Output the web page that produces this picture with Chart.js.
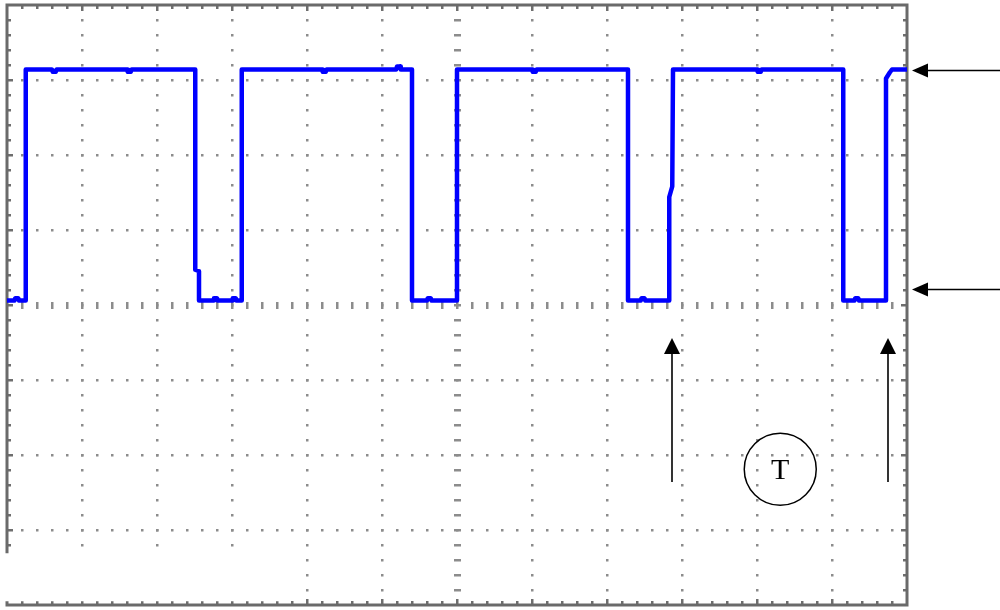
<!DOCTYPE html>
<html>
<head>
<meta charset="utf-8">
<script src="https://cdn.jsdelivr.net/npm/chart.js@4.4.1/dist/chart.umd.min.js"></script>
<style>
html,body{margin:0;padding:0;background:#fff;}
#wrap{width:1000px;height:610px;}
</style>
</head>
<body>
<div id="wrap"><canvas id="c" width="1000" height="610"></canvas></div>
<script>
// Time axis in divisions (0..12), voltage in divisions (-4..4)
const time  = [0, 0.10, 0.11, 0.15, 0.16, 0.25, 0.25, 0.60, 0.61, 0.65, 0.66, 1.6, 1.61, 1.65, 1.66, 2.51, 2.51, 2.56, 2.56, 2.75, 2.76, 2.80, 2.81, 3.0, 3.01, 3.05, 3.06, 3.13, 3.13, 4.2, 4.21, 4.25, 4.26, 5.19, 5.20, 5.24, 5.25, 5.40, 5.40, 5.60, 5.61, 5.65, 5.66, 6.0, 6.0, 7.0, 7.01, 7.05, 7.06, 8.28, 8.28, 8.45, 8.46, 8.50, 8.51, 8.83, 8.83, 8.87, 8.88, 10.0, 10.01, 10.05, 10.06, 11.15, 11.15, 11.30, 11.31, 11.35, 11.36, 11.72, 11.72, 11.77, 11.80, 12.0];
const volts = [0.06, 0.06, 0.09, 0.09, 0.06, 0.06, 3.14, 3.14, 3.11, 3.11, 3.14, 3.14, 3.11, 3.11, 3.14, 3.14, 0.47, 0.45, 0.06, 0.06, 0.09, 0.09, 0.06, 0.06, 0.09, 0.09, 0.06, 0.06, 3.14, 3.14, 3.11, 3.11, 3.14, 3.14, 3.18, 3.18, 3.14, 3.14, 0.06, 0.06, 0.09, 0.09, 0.06, 0.06, 3.14, 3.14, 3.11, 3.11, 3.14, 3.14, 0.06, 0.06, 0.09, 0.09, 0.06, 0.06, 1.44, 1.58, 3.14, 3.14, 3.11, 3.11, 3.14, 3.14, 0.06, 0.06, 0.09, 0.09, 0.06, 0.06, 3.02, 3.10, 3.14, 3.14];
const xDivisions = 12;
const yDivisions = 8;
const markerLabel = 'T';

const scopePlugin = {
  id: 'scope',
  beforeDatasetsDraw(chart) {
    const ctx = chart.ctx;
    const xs = chart.scales.x, ys = chart.scales.y;
    const L = xs.getPixelForValue(0), R = xs.getPixelForValue(xDivisions);
    const T = ys.getPixelForValue(yDivisions/2), B = ys.getPixelForValue(-yDivisions/2);
    ctx.save();
    ctx.fillStyle = '#8c8c8c';
    // dotted vertical grid
    for (let i = 1; i < xDivisions; i++) {
      const px = Math.round(xs.getPixelForValue(i));
      for (let k = 1; k < yDivisions*5; k++) {
        const py = Math.round(ys.getPixelForValue(-yDivisions/2 + k*0.2));
        if (i === xDivisions/2) ctx.fillRect(px-3, py-1, 7, 2.5);
        else ctx.fillRect(px-1, py-1, 2.5, 2.5);
      }
    }
    // dotted horizontal grid
    for (let j = -yDivisions/2 + 1; j < yDivisions/2; j++) {
      const py = Math.round(ys.getPixelForValue(j));
      for (let k = 1; k < xDivisions*5; k++) {
        const px = Math.round(xs.getPixelForValue(k*0.2));
        if (j === 0) ctx.fillRect(px-1, py-3, 2.5, 7);
        else ctx.fillRect(px-1, py-1, 2.5, 2.5);
      }
    }
    // border ticks
    ctx.fillStyle = '#6e6e6e';
    for (let k = 1; k < xDivisions*5; k++) {
      const px = Math.round(xs.getPixelForValue(k*0.2));
      const len = (k % 5 === 0) ? 6 : 4;
      ctx.fillRect(px-1, T, 2.5, len);
      ctx.fillRect(px-1, B-len, 2.5, len);
    }
    for (let k = 1; k < yDivisions*5; k++) {
      const py = Math.round(ys.getPixelForValue(-yDivisions/2 + k*0.2));
      const len = (k % 5 === 0) ? 6 : 4;
      ctx.fillRect(L, py-1, len, 2.5);
      ctx.fillRect(R-len, py-1, len, 2.5);
    }
    // frame
    ctx.strokeStyle = '#6a6a6a';
    ctx.lineWidth = 3;
    ctx.strokeRect(L, T, R-L, B-T);
    // blank patch at bottom-left of the screen
    ctx.fillStyle = '#ffffff';
    ctx.fillRect(0, ys.getPixelForValue(-3.31), 280, ys.getPixelForValue(-3.95) - ys.getPixelForValue(-3.31));
    ctx.restore();
  },
  afterDraw(chart) {
    const ctx = chart.ctx;
    const xs = chart.scales.x, ys = chart.scales.y;
    const R = xs.getPixelForValue(xDivisions);
    ctx.save();
    ctx.strokeStyle = '#000';
    ctx.fillStyle = '#000';
    ctx.lineWidth = 1.6;
    // left-pointing arrows at high and low level
    const levels = [ys.getPixelForValue(3.14) + 1, ys.getPixelForValue(0.06) - 11];
    levels.forEach(py => {
      const tip = R + 5;
      ctx.beginPath(); ctx.moveTo(1000, py); ctx.lineTo(tip + 10, py); ctx.stroke();
      ctx.beginPath(); ctx.moveTo(tip, py); ctx.lineTo(tip + 16, py - 7); ctx.lineTo(tip + 16, py + 7); ctx.closePath(); ctx.fill();
    });
    // upward arrows at rising edges
    [xs.getPixelForValue(8.87), xs.getPixelForValue(11.74)].forEach(px => {
      px = Math.round(px);
      const tipY = ys.getPixelForValue(-0.44), baseY = ys.getPixelForValue(-2.36);
      ctx.beginPath(); ctx.moveTo(px, baseY); ctx.lineTo(px, tipY + 10); ctx.stroke();
      ctx.beginPath(); ctx.moveTo(px, tipY); ctx.lineTo(px - 8, tipY + 16); ctx.lineTo(px + 8, tipY + 16); ctx.closePath(); ctx.fill();
    });
    // circled T
    const cx = xs.getPixelForValue(10.31), cy = ys.getPixelForValue(-2.19);
    ctx.lineWidth = 1.5;
    ctx.beginPath(); ctx.arc(cx, cy, 36, 0, Math.PI*2); ctx.stroke();
    ctx.font = '30px "Liberation Serif", "DejaVu Serif", serif';
    ctx.textAlign = 'center'; ctx.textBaseline = 'middle';
    ctx.fillText(markerLabel, cx, cy + 2);
    ctx.restore();
  }
};

new Chart(document.getElementById('c'), {
  type: 'line',
  data: {
    datasets: [{
      data: time.map((t, i) => ({x: t, y: volts[i]})),
      borderColor: '#0000ff',
      borderWidth: 4.5,
      borderJoinStyle: 'round',
      borderCapStyle: 'round',
      pointRadius: 0,
      tension: 0,
      fill: false
    }]
  },
  options: {
    responsive: false,
    animation: false,
    events: [],
    layout: { padding: { left: 7, top: 5, right: 93, bottom: 5 } },
    scales: {
      x: { type: 'linear', min: 0, max: xDivisions, display: false },
      y: { type: 'linear', min: -yDivisions/2, max: yDivisions/2, display: false }
    },
    plugins: { legend: { display: false }, tooltip: { enabled: false } }
  },
  plugins: [scopePlugin]
});
</script>
</body>
</html>
